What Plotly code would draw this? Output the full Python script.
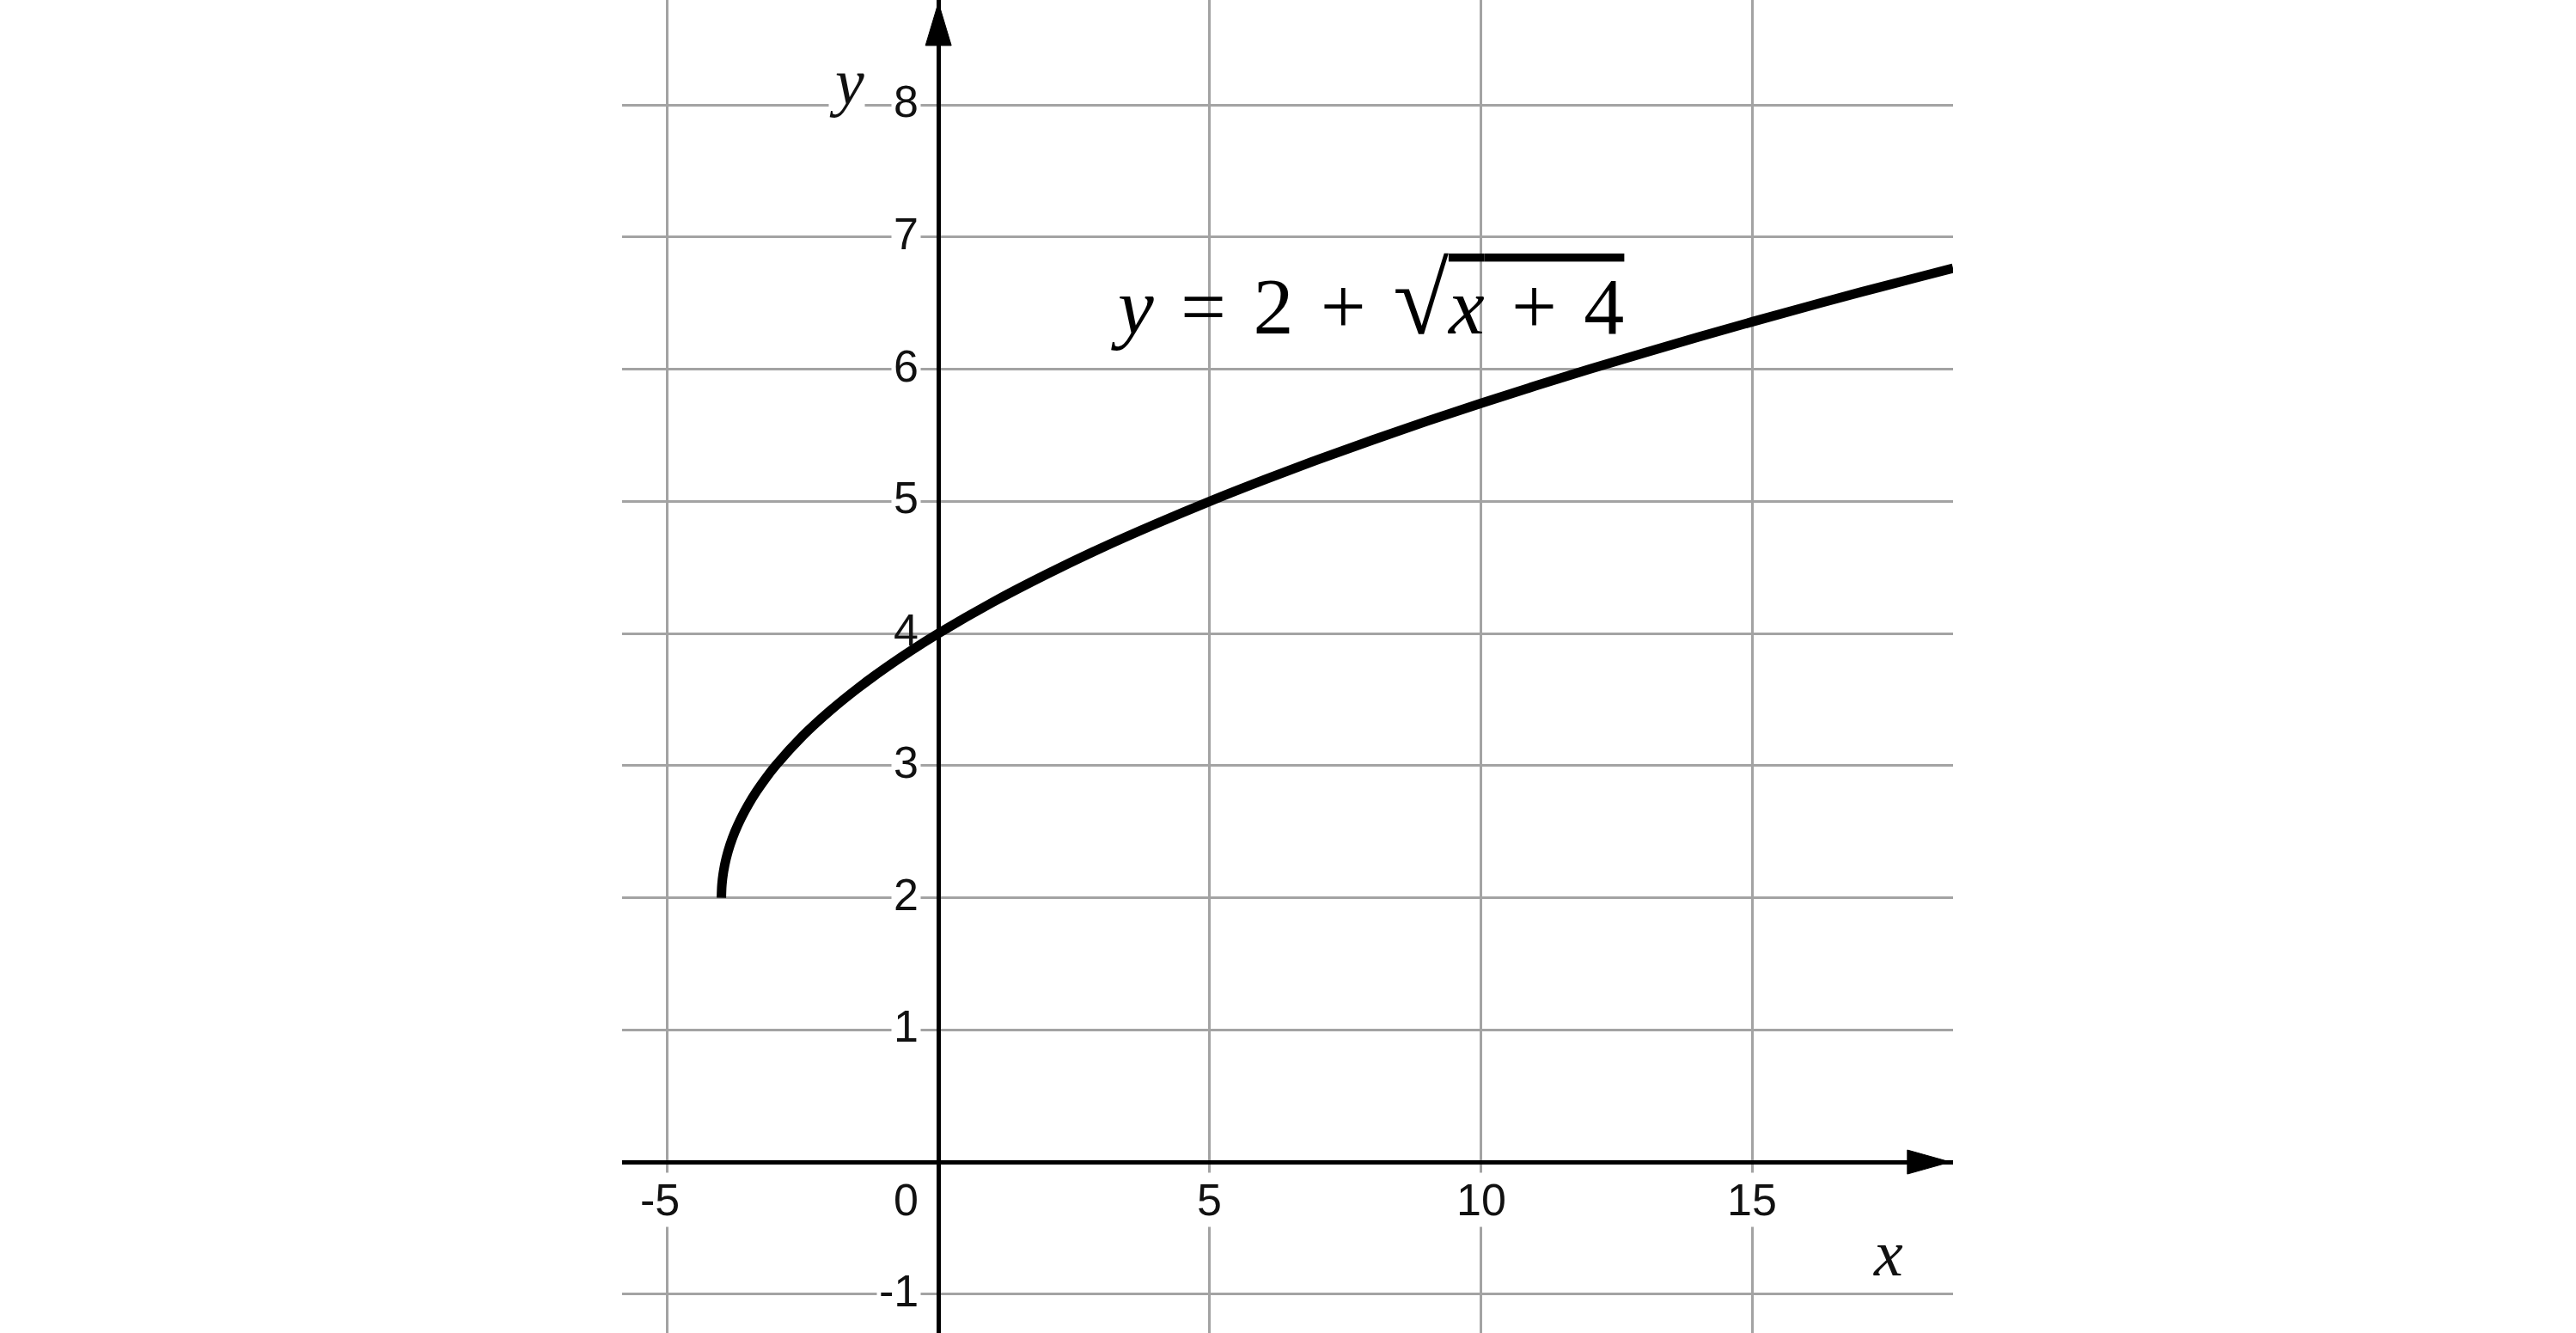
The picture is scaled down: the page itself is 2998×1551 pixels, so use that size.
import plotly.graph_objects as go

# ---- data ----
curve_x = [-4, -3.99, -3.96, -3.91, -3.84, -3.75, -3.64, -3.51, -3.36, -3.19, -3,
           -2.5, -2, -1.5, -1, -0.5, 0, 1, 2, 3, 4, 5, 6, 7, 8, 9, 10, 11, 12,
           13, 14, 15, 16, 17, 18, 18.7]
curve_y = [2.000, 2.100, 2.200, 2.300, 2.400, 2.500, 2.600, 2.700, 2.800, 2.900, 3.000,
           3.225, 3.414, 3.581, 3.732, 3.871, 4.000, 4.236, 4.449, 4.646, 4.828, 5.000,
           5.162, 5.317, 5.464, 5.606, 5.742, 5.873, 6.000,
           6.123, 6.243, 6.359, 6.472, 6.583, 6.690, 6.764]

x_ticks = [-5, 5, 10, 15]
x_tick_labels = ["-5", "5", "10", "15"]
y_ticks = [-1, 1, 2, 3, 4, 5, 6, 7, 8]
y_tick_labels = ["-1", "1", "2", "3", "4", "5", "6", "7", "8"]
x_grid = [-5, 0, 5, 10, 15]
y_grid = [-1, 0, 1, 2, 3, 4, 5, 6, 7, 8]

x_range = [-5.83, 18.70]
y_range = [-1.294, 8.794]

fig = go.Figure()
fig.add_trace(go.Scatter(
    x=curve_x, y=curve_y, mode="lines",
    line=dict(color="black", width=11, shape="spline", smoothing=1.0, simplify=False),
    hoverinfo="skip", showlegend=False,
))

GRID = "#a3a3a3"
fig.update_xaxes(range=x_range, tickvals=x_grid, showticklabels=False, ticks="",
                 showgrid=True, gridcolor=GRID, gridwidth=3,
                 zeroline=True, zerolinecolor="black", zerolinewidth=5,
                 showline=False, fixedrange=True)
fig.update_yaxes(range=y_range, tickvals=y_grid, showticklabels=False, ticks="",
                 showgrid=True, gridcolor=GRID, gridwidth=3,
                 zeroline=True, zerolinecolor="black", zerolinewidth=5,
                 showline=False, fixedrange=True)

tick_font = dict(family="Liberation Sans, Arial, sans-serif", size=52, color="#111")
ann = []
for v, t in zip(x_ticks, x_tick_labels):
    ann.append(dict(x=v, y=0, xref="x", yref="y", text=t, showarrow=False,
                    xanchor="center", yanchor="middle", yshift=-44,
                    xshift=-8 if t.startswith("-") else 0,
                    font=tick_font, bgcolor="white", borderpad=2))
for v, t in zip(y_ticks, y_tick_labels):
    # the curve crosses the label at y = 4, so no white box there
    ann.append(dict(x=0, y=v, xref="x", yref="y", text=t, showarrow=False,
                    xanchor="right", yanchor="middle", xshift=-20, yshift=4,
                    font=tick_font,
                    bgcolor="rgba(0,0,0,0)" if v == 4 else "white", borderpad=2))
ann.append(dict(x=0, y=0, xref="x", yref="y", text="0", showarrow=False,
                xanchor="right", yanchor="middle", xshift=-20, yshift=-44,
                font=tick_font, bgcolor="white", borderpad=2))

label_font = dict(family="Liberation Serif, Times New Roman, serif", size=76, color="#111")
ann.append(dict(x=-1.69, y=8.175, xref="x", yref="y", text="<i>y</i>", showarrow=False,
                xanchor="center", yanchor="middle", font=label_font,
                bgcolor="white", borderpad=0))
ann.append(dict(x=17.5, y=-0.69, xref="x", yref="y", text="<i>x</i>", showarrow=False,
                xanchor="center", yanchor="middle", font=label_font))

sp = "\u2004"
eq = ("<i>y</i>" + sp + "=" + sp + "2" + sp + "+" + sp +
      "<span style='font-size:118px'>\u221a</span>"
      "<span style='text-decoration:overline'><i>x</i>" + sp + "+" + sp + "4</span>")
ann.append(dict(x=7.9, y=6.53, xref="x", yref="y", text=eq, showarrow=False,
                xanchor="center", yanchor="middle",
                font=dict(family="Liberation Serif, serif", size=94, color="black")))

shapes = [
    dict(type="path", xref="x", yref="y", xsizemode="pixel", ysizemode="pixel",
         xanchor=0, yanchor=8.775, path="M0,0 L-15,-50 L15,-50 Z",
         fillcolor="black", line=dict(color="black", width=1), layer="above"),
    dict(type="path", xref="x", yref="y", xsizemode="pixel", ysizemode="pixel",
         xanchor=18.65, yanchor=0, path="M0,0 L-50,14 L-50,-14 Z",
         fillcolor="black", line=dict(color="black", width=1), layer="above"),
]

fig.update_layout(
    width=2998, height=1551, autosize=False,
    margin=dict(l=724, r=725, t=0, b=0, pad=0),
    plot_bgcolor="white", paper_bgcolor="white",
    annotations=ann, shapes=shapes, showlegend=False,
)

fig.write_html("out.html", config={"displayModeBar": False},
               post_script="document.body.style.margin='0';document.body.style.overflow='hidden';")
